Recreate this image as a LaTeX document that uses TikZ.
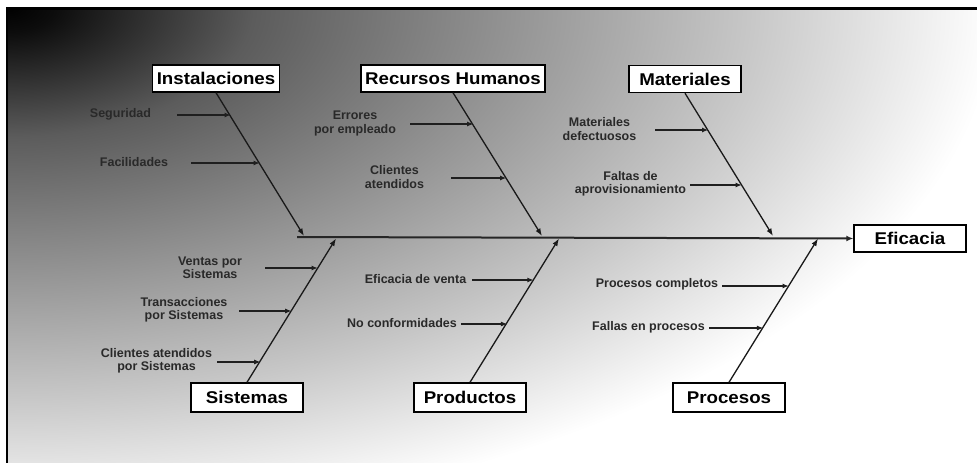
\documentclass[tikz,border=0pt]{standalone}
\usepackage{fontspec}
\setmainfont{Liberation Sans}
\newfontfamily\headfont{Liberation Sans}[FakeStretch=1.1]
\usetikzlibrary{arrows.meta}
% backdrop: dark in the upper left corner, fading to white
\pgfdeclareradialshading{backdrop}{\pgfpoint{0bp}{0bp}}{%
  color(0bp)=(black); color(1.25bp)=(black!95); color(6.25bp)=(black!64);
  color(12.5bp)=(black!43); color(18.75bp)=(black!22);
  color(25bp)=(white); color(75bp)=(white)}
\begin{document}
\begin{tikzpicture}[x=1pt,y=-1pt,
  box/.style={draw=black, line width=1.4pt, fill=white, minimum width=112pt,
    minimum height=27pt, inner xsep=4pt, inner ysep=0pt,
    font=\headfont\bfseries\fontsize{17}{20}\selectfont},
  lowbox/.style={box, minimum height=29pt},
  lbl/.style={align=center, inner sep=0pt, text=black!84,
    font=\bfseries\fontsize{12.5}{13.5}\selectfont},
  bone/.style={draw=black!90, line width=1.3pt, -{Latex[length=7.5pt,width=5.5pt]}},
  twig/.style={draw=black!88, line width=1.3pt, -{Latex[length=6.5pt,width=5pt]}},
  spine/.style={draw=black!85, line width=2pt, -{Latex[length=7pt,width=6pt]}}]
\useasboundingbox (0,0) rectangle (977,463);

% background and frame
\begin{scope}
  \clip (6,7) rectangle (977,463);
  \fill[white] (6,7) rectangle (977,463);
  \shade[shading=backdrop] (-984,-513) rectangle (996,527);
\end{scope}
\draw[line width=2.5pt] (7,463) -- (7,8.5) -- (977,8.5);

% effect and categories
\node[box] (eff) at (910,238.5) {Eficacia};
\node[box] (inst) at (216,78.5) {Instalaciones};
\node[box] (rrhh) at (453,78.5) {Recursos Humanos};
\node[box] (mat) at (685,79) {Materiales};
\node[lowbox] (sis) at (247,397.5) {Sistemas};
\node[lowbox] (prod) at (470,397.5) {Productos};
\node[lowbox] (proc) at (729,397.5) {Procesos};

% spine
\coordinate (tail) at (297,237);
\draw[spine] (tail) -- (eff.west);

% main bones
\coordinate (itip) at (304,236);
\coordinate (rtip) at (542,236);
\coordinate (mtip) at (773,236);
\coordinate (stip) at (336,238.5);
\coordinate (ptip) at (559,238.5);
\coordinate (ctip) at (818,238.5);
\draw[bone] (inst.south) -- (itip);
\draw[bone] (rrhh.south) -- (rtip);
\draw[bone] (mat.south) -- (mtip);
\draw[bone] (sis.north) -- (stip);
\draw[bone] (prod.north) -- (ptip);
\draw[bone] (proc.north) -- (ctip);

% causes
\node[lbl] (seg) at (120.5,114.5) {Seguridad};
\node[lbl] (fac) at (134,162.5) {Facilidades};
\node[lbl] (err) at (355,123.5) {Errores\\por empleado};
\node[lbl] (cli) at (394.5,177) {Clientes\\atendidos};
\node[lbl] (mdef) at (599.5,129) {Materiales\\defectuosos};
\node[lbl] (falt) at (630.5,184) {Faltas de\\aprovisionamiento};
\node[lbl] (ven) at (210,268) {Ventas por\\Sistemas};
\node[lbl] (tra) at (184,310) {Transacciones\\por Sistemas};
\node[lbl] (cas) at (156.5,361) {Clientes atendidos\\por Sistemas};
\node[lbl] (efv) at (415.5,279.5) {Eficacia de venta};
\node[lbl] (noc) at (402,323.5) {No conformidades};
\node[lbl] (pco) at (657,284.5) {Procesos completos};
\node[lbl] (fen) at (648.5,327.5) {Fallas en procesos};

% cause arrows: start point and point on the bone
\coordinate (seg0) at (177,115);   \coordinate (seg1) at (231,115);
\coordinate (fac0) at (191,163);   \coordinate (fac1) at (260,163);
\coordinate (err0) at (410,124);   \coordinate (err1) at (473.6,124);
\coordinate (cli0) at (451,178);   \coordinate (cli1) at (506.5,178);
\coordinate (mdef0) at (655,130);  \coordinate (mdef1) at (708.5,130);
\coordinate (falt0) at (690,185);  \coordinate (falt1) at (742,185);
\coordinate (ven0) at (265,268);   \coordinate (ven1) at (318,268);
\coordinate (tra0) at (239,311);   \coordinate (tra1) at (291.7,311);
\coordinate (cas0) at (217,362);   \coordinate (cas1) at (260.7,362);
\coordinate (efv0) at (472,280);   \coordinate (efv1) at (533.8,280);
\coordinate (noc0) at (461,324);   \coordinate (noc1) at (507.4,324);
\coordinate (pco0) at (722,286);   \coordinate (pco1) at (789,286);
\coordinate (fen0) at (709,328);   \coordinate (fen1) at (763.4,328);
\foreach \c in {seg,fac,err,cli,mdef,falt,ven,tra,cas,efv,noc,pco,fen}
  \draw[twig] (\c0) -- (\c1);
\end{tikzpicture}
\end{document}
